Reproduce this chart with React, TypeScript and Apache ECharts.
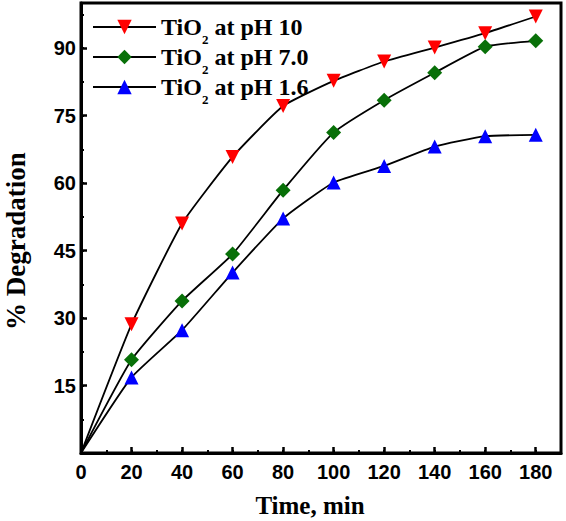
import React, { useEffect, useRef } from "react";
import * as echarts from "echarts";

const timeMin = [0, 20, 40, 60, 80, 100, 120, 140, 160, 180];
const ph10 = [0, 28.6, 51.0, 65.8, 77.1, 82.7, 87.0, 90.1, 93.3, 97.0];
const ph70 = [0, 20.7, 33.8, 44.2, 58.4, 71.2, 78.4, 84.5, 90.3, 91.6];
const ph16 = [0, 16.8, 27.3, 40.1, 52.1, 60.1, 63.8, 68.1, 70.4, 70.7];
const seriesNames = ["TiO2 at pH 10", "TiO2 at pH 7.0", "TiO2 at pH 1.6"];
const seriesColors = ["#ff0000", "#087008", "#0000ff"];

const SERIF = "'Liberation Serif', 'Times New Roman', serif";
const SANS = "'Liberation Sans', Arial, sans-serif";

function pts(vals: number[]) {
  return vals.map((v, i) =>
    i === 0 ? { value: [timeMin[i], v], symbolSize: 0 } : { value: [timeMin[i], v] }
  );
}

export default function App() {
  const ref = useRef<HTMLDivElement>(null);
  useEffect(() => {
    const chart = echarts.init(ref.current!, null, { renderer: "svg" });
    const axisLine = { show: true, lineStyle: { color: "#000", width: 3 } };
    const makeSeries = (idx: number, vals: number[], symbol: string, rotate: number, size: number) => ({
      name: seriesNames[idx],
      type: "line",
      data: pts(vals),
      symbol,
      symbolRotate: rotate,
      symbolSize: size,
      smooth: 0.15,
      lineStyle: { color: "#000", width: 1.8 },
      itemStyle: { color: seriesColors[idx], borderWidth: 0 },
      z: 3,
    });
    chart.setOption({
      animation: false,
      grid: {
        left: 81,
        right: 5,
        top: 3,
        bottom: 68,
        show: true,
        borderColor: "#000",
        borderWidth: 3,
        containLabel: false,
        outerBoundsMode: "none",
      },
      legend: {
        orient: "vertical",
        left: 87,
        top: 3,
        itemWidth: 63,
        itemHeight: 18,
        itemGap: -8,
        symbolRotate: "inherit",
        data: seriesNames,
        formatter: (name: string) => name.replace(/^TiO2(.*)$/, "{a|TiO}{s|2}{a|$1}"),
        textStyle: {
          rich: {
            a: {
              fontSize: 24,
              fontWeight: "bold",
              fontFamily: SERIF,
              color: "#000",
              lineHeight: 40,
              verticalAlign: "middle",
            },
            s: {
              fontSize: 13,
              fontWeight: "bold",
              fontFamily: SERIF,
              color: "#000",
              lineHeight: 13,
              verticalAlign: "middle",
              padding: [25, 0, 0, 0],
            },
          },
        },
      },
      xAxis: [
        {
          type: "value",
          min: 0,
          max: 190,
          interval: 20,
          position: "bottom",
          axisLine,
          axisTick: { show: true, inside: true, length: 6, lineStyle: { color: "#000", width: 2.5 } },
          axisLabel: {
            fontSize: 20,
            fontWeight: "bold",
            fontFamily: SANS,
            color: "#000",
            margin: 9,
            showMaxLabel: false,
          },
          splitLine: { show: false },
          name: "Time, min",
          nameLocation: "middle",
          nameGap: 40,
          nameTextStyle: {
            fontSize: 25,
            fontWeight: "bold",
            fontFamily: SERIF,
            color: "#000",
            padding: [0, 22, 0, 0],
          },
        },
        {
          type: "value",
          min: 0,
          max: 190,
          interval: 10,
          position: "bottom",
          axisLine: { show: false },
          axisTick: { show: true, inside: true, length: 3, lineStyle: { color: "#000", width: 2 } },
          axisLabel: { show: false },
          splitLine: { show: false },
        },
      ],
      yAxis: [
        {
          type: "value",
          min: 0,
          max: 100,
          interval: 15,
          position: "left",
          axisLine,
          axisTick: { show: true, inside: true, length: 6, lineStyle: { color: "#000", width: 2.5 } },
          axisLabel: {
            fontSize: 20,
            fontWeight: "bold",
            fontFamily: SANS,
            color: "#000",
            margin: 5,
            showMaxLabel: false,
            showMinLabel: false,
          },
          splitLine: { show: false },
          name: "% Degradation",
          nameLocation: "middle",
          nameGap: 52,
          nameTextStyle: {
            fontSize: 27,
            fontWeight: "bold",
            fontFamily: SERIF,
            color: "#000",
            padding: [0, 26, 0, 0],
          },
        },
        {
          type: "value",
          min: 0,
          max: 100,
          interval: 7.5,
          position: "left",
          axisLine: { show: false },
          axisTick: { show: true, inside: true, length: 3, lineStyle: { color: "#000", width: 2 } },
          axisLabel: { show: false },
          splitLine: { show: false },
        },
      ],
      series: [
        makeSeries(0, ph10, "triangle", 180, 14),
        makeSeries(1, ph70, "diamond", 0, 15),
        makeSeries(2, ph16, "triangle", 0, 14),
      ],
    });
    return () => chart.dispose();
  }, []);
  return (
    <div
      ref={ref}
      style={{ position: "fixed", left: 0, top: 0, width: 566, height: 521, background: "#fff" }}
    />
  );
}
